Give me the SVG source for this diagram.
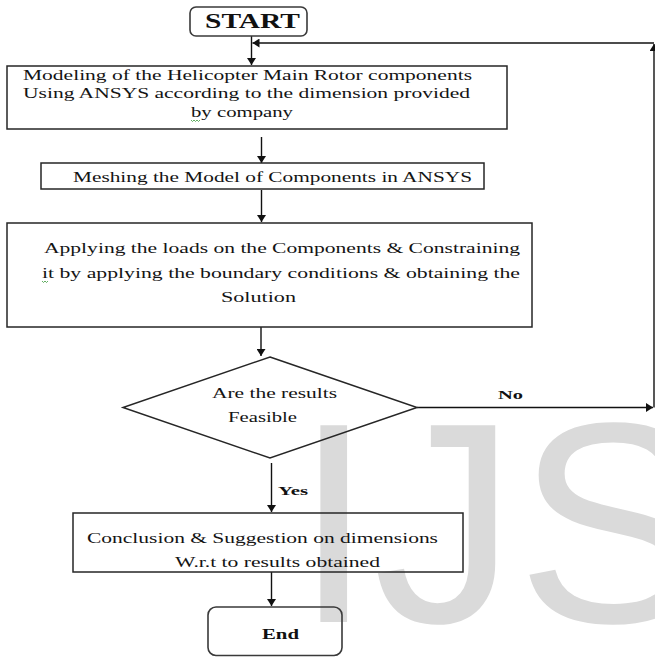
<svg xmlns="http://www.w3.org/2000/svg" width="655" height="657" viewBox="0 0 655 657">
<style>
.box{fill:none;stroke:#262626;stroke-width:1.5}
.rbox{fill:none;stroke:#3a3a3a;stroke-width:1.6}
.t{font-family:"Liberation Serif","Times New Roman",serif;font-size:14px;fill:#141414}
.b{font-family:"Liberation Serif","Times New Roman",serif;font-weight:bold;fill:#111}
.wm{font-family:"Liberation Sans",Arial,sans-serif;font-size:286px;fill:#dadada}
.c{fill:none;stroke:#111;stroke-width:1.4}
.sq{fill:none;stroke:#3a9a3a;stroke-width:0.8}
</style>
<defs>
<marker id="ah" markerUnits="userSpaceOnUse" markerWidth="8" markerHeight="9" refX="7" refY="4.5" orient="auto">
<path d="M0,0 L7,4.5 L0,9 z" fill="#111"/>
</marker>
</defs>
<rect width="655" height="657" fill="#fff"/>
<text class="wm" x="294" y="622">IJS</text>

<g id="connectors">
<path class="c" d="M251.5,36 V65" marker-end="url(#ah)"/>
<path class="c" d="M261.5,137 V163" marker-end="url(#ah)"/>
<path class="c" d="M261.5,190 V222" marker-end="url(#ah)"/>
<path class="c" d="M261,327 V356" marker-end="url(#ah)"/>
<path class="c" d="M417,407.5 H653" marker-end="url(#ah)"/>
<path class="c" d="M654,407.5 V44" marker-end="url(#ah)"/>
<path class="c" d="M654,43 H252.5" marker-end="url(#ah)"/>
<path class="c" d="M271.5,463 V512" marker-end="url(#ah)"/>
<path class="c" d="M271.5,572 V606" marker-end="url(#ah)"/>
<text class="b" x="498" y="399" font-size="13" textLength="25" lengthAdjust="spacingAndGlyphs">No</text>
<text class="b" x="278" y="495" font-size="13" textLength="30" lengthAdjust="spacingAndGlyphs">Yes</text>
</g>

<g id="start">
<rect class="rbox" x="190" y="7" width="117" height="29" rx="6"/>
<text class="b" x="205" y="28" font-size="20" textLength="95" lengthAdjust="spacingAndGlyphs">START</text>
</g>

<g id="modeling">
<rect class="box" x="7" y="66" width="500" height="63"/>
<text class="t" x="23" y="80" textLength="449" lengthAdjust="spacingAndGlyphs">Modeling  of the Helicopter  Main Rotor components</text>
<text class="t" x="23" y="98" textLength="447" lengthAdjust="spacingAndGlyphs">Using ANSYS  according  to the dimension provided</text>
<text class="t" x="191" y="117" textLength="102" lengthAdjust="spacingAndGlyphs">by company</text>
<path class="sq" d="M191,120 l1.5,1.5 l1.5,-1.5 l1.5,1.5 l1.5,-1.5 l1.5,1.5 l1.5,-1.5"/>
</g>

<g id="meshing">
<rect class="box" x="41" y="163" width="443" height="26"/>
<text class="t" x="73" y="182" textLength="399" lengthAdjust="spacingAndGlyphs">Meshing the Model of Components in ANSYS</text>
</g>

<g id="loads">
<rect class="box" x="7" y="223" width="525" height="104"/>
<text class="t" x="44" y="253" textLength="476" lengthAdjust="spacingAndGlyphs">Applying  the loads on the Components  &amp; Constraining</text>
<text class="t" x="42" y="278" textLength="478" lengthAdjust="spacingAndGlyphs">it by applying  the boundary  conditions  &amp; obtaining  the</text>
<text class="t" x="221" y="302" textLength="75" lengthAdjust="spacingAndGlyphs">Solution</text>
<path class="sq" d="M42,281 l1.5,1.5 l1.5,-1.5 l1.5,1.5 l1.5,-1.5"/>
</g>

<g id="decision">
<polygon class="box" points="270,357 417,407.5 270,458 123,407.5"/>
<text class="t" x="212" y="398" textLength="125" lengthAdjust="spacingAndGlyphs">Are  the results</text>
<text class="t" x="228" y="422" textLength="69" lengthAdjust="spacingAndGlyphs">Feasible</text>
</g>

<g id="conclusion">
<rect class="box" x="73" y="513" width="390" height="59"/>
<text class="t" x="87" y="543" textLength="351" lengthAdjust="spacingAndGlyphs">Conclusion &amp; Suggestion  on dimensions</text>
<text class="t" x="175" y="567" textLength="205" lengthAdjust="spacingAndGlyphs">W.r.t to results  obtained</text>
</g>

<g id="end">
<rect class="rbox" x="208" y="607" width="134" height="48.5" rx="8"/>
<text class="b" x="262" y="639" font-size="15" textLength="37" lengthAdjust="spacingAndGlyphs">End</text>
</g>
</svg>
